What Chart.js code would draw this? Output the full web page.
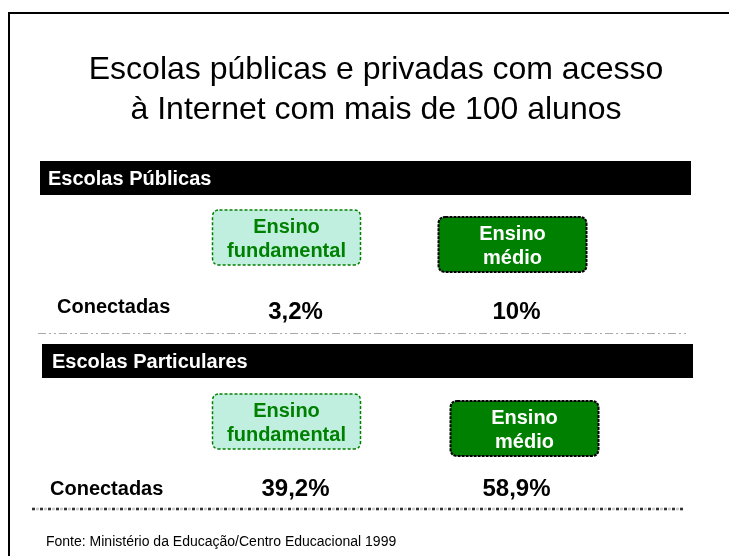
<!DOCTYPE html>
<html>
<head>
<meta charset="utf-8">
<script src="https://cdn.jsdelivr.net/npm/chart.js@4.4.1/dist/chart.umd.min.js"></script>
<style>
  html, body { margin: 0; padding: 0; background: #fff; }
  canvas { display: block; }
</style>
</head>
<body>
<canvas id="slide" width="729" height="556"></canvas>
<script>
// data
const levels = ["Ensino fundamental", "Ensino médio"];
const sections = ["Escolas Públicas", "Escolas Particulares"];
const rowLabel = "Conectadas";
const publicConnected = [3.2, 10];
const privateConnected = [39.2, 58.9];
const titleLines = ["Escolas públicas e privadas com acesso", "à Internet com mais de 100 alunos"];
const sourceNote = "Fonte: Ministério da Educação/Centro Educacional 1999";

const FONT = '"Liberation Sans", Arial, sans-serif';
const GREEN = "#008000";
const MINT = "#c0efe0";

// decoration placement per section (bars, header boxes)
const sectionLayout = [
    { barTop: 161, barLeft: 40, barRight: 691, labelX: 48, boxTop: [210, 217], boxShift: [-9, -4], rowLabelX: 57, rowLabelDy: 2 },
    { barTop: 344, barLeft: 42, barRight: 693, labelX: 52, boxTop: [394, 401], boxShift: [-9, 8], rowLabelX: 50, rowLabelDy: 7 }
];

function roundBox(ctx, x, y, w, h, r) {
    ctx.beginPath();
    ctx.moveTo(x + r, y);
    ctx.lineTo(x + w - r, y);
    ctx.quadraticCurveTo(x + w, y, x + w, y + r);
    ctx.lineTo(x + w, y + h - r);
    ctx.quadraticCurveTo(x + w, y + h, x + w - r, y + h);
    ctx.lineTo(x + r, y + h);
    ctx.quadraticCurveTo(x, y + h, x, y + h - r);
    ctx.lineTo(x, y + r);
    ctx.quadraticCurveTo(x, y, x + r, y);
    ctx.closePath();
}

const slidePlugin = {
    id: "slide",
    beforeDraw(chart) {
        const ctx = chart.ctx;
        const xs = chart.scales.x;
        const ys = chart.scales.y;
        ctx.save();
        ctx.fillStyle = "#fff";
        ctx.fillRect(0, 0, chart.width, chart.height);

        // outer frame, runs off the right and bottom edge
        ctx.strokeStyle = "#000";
        ctx.lineWidth = 2;
        ctx.strokeRect(9, 13, 760, 580);

        // title
        ctx.fillStyle = "#000";
        ctx.textAlign = "center";
        ctx.textBaseline = "alphabetic";
        ctx.font = "32px " + FONT;
        ctx.fillText(titleLines[0], 376, 79);
        ctx.fillText(titleLines[1], 376, 119);

        sections.forEach((name, s) => {
            const L = sectionLayout[s];
            ctx.fillStyle = "#000";
            ctx.fillRect(L.barLeft, L.barTop, L.barRight - L.barLeft, 34);
            ctx.fillStyle = "#fff";
            ctx.textAlign = "left";
            ctx.font = "bold 20px " + FONT;
            ctx.fillText(name, L.labelX, L.barTop + 24);

            // column header boxes
            levels.forEach((lvl, i) => {
                const cx = xs.getPixelForValue(i) + L.boxShift[i];
                const w = 148, h = 55;
                const top = L.boxTop[i];
                roundBox(ctx, cx - w / 2, top, w, h, 7);
                if (i === 0) {
                    ctx.fillStyle = MINT;
                    ctx.fill();
                    ctx.strokeStyle = GREEN;
                    ctx.setLineDash([3, 2]);
                    ctx.lineWidth = 1.5;
                } else {
                    ctx.fillStyle = GREEN;
                    ctx.fill();
                    ctx.strokeStyle = "#000";
                    ctx.setLineDash([3, 1]);
                    ctx.lineWidth = 2;
                }
                ctx.stroke();
                ctx.setLineDash([]);
                const words = lvl.split(" ");
                ctx.fillStyle = i === 0 ? GREEN : "#fff";
                ctx.textAlign = "center";
                ctx.font = "bold 20px " + FONT;
                ctx.fillText(words[0], cx, top + 23);
                ctx.fillText(words[1], cx, top + 47);
            });

            ctx.fillStyle = "#000";
            ctx.textAlign = "left";
            ctx.font = "bold 20px " + FONT;
            ctx.fillText(rowLabel, L.rowLabelX, ys.getPixelForValue(s) + L.rowLabelDy);
        });

        // separators
        ctx.strokeStyle = "#aaa";
        ctx.lineWidth = 1;
        ctx.setLineDash([8, 3, 2, 3, 2, 3]);
        ctx.beginPath();
        ctx.moveTo(38, 333.5);
        ctx.lineTo(688, 333.5);
        ctx.stroke();

        ctx.strokeStyle = "#c8c8c8";
        ctx.lineWidth = 2.5;
        ctx.setLineDash([3, 1]);
        ctx.beginPath();
        ctx.moveTo(32, 509);
        ctx.lineTo(684, 509);
        ctx.stroke();
        ctx.strokeStyle = "#333";
        ctx.setLineDash([3, 5]);
        ctx.stroke();
        ctx.setLineDash([]);

        ctx.fillStyle = "#000";
        ctx.textAlign = "left";
        ctx.font = "14px " + FONT;
        ctx.fillText(sourceNote, 46, 546);
        ctx.restore();
    },
    afterDatasetsDraw(chart) {
        const ctx = chart.ctx;
        ctx.save();
        ctx.fillStyle = "#000";
        ctx.textAlign = "center";
        ctx.textBaseline = "alphabetic";
        ctx.font = "bold 24px " + FONT;
        chart.data.datasets.forEach((ds, d) => {
            chart.getDatasetMeta(d).data.forEach((pt, i) => {
                const txt = ds.data[i].v.toLocaleString("pt-BR") + "%";
                ctx.fillText(txt, pt.x, pt.y + 8);
            });
        });
        ctx.restore();
    }
};

new Chart(document.getElementById("slide"), {
    type: "scatter",
    data: {
        datasets: [
            { label: sections[0], data: levels.map((l, i) => ({ x: l, y: sections[0], v: publicConnected[i] })) },
            { label: sections[1], data: levels.map((l, i) => ({ x: l, y: sections[1], v: privateConnected[i] })) }
        ]
    },
    options: {
        responsive: false,
        animation: false,
        devicePixelRatio: 1,
        layout: { padding: { left: 185, right: 102, top: 311, bottom: 68 } },
        elements: { point: { radius: 0, hoverRadius: 0 } },
        scales: {
            x: { type: "category", labels: levels, offset: true, display: false },
            y: { type: "category", labels: sections, offset: false, display: false }
        },
        plugins: { legend: { display: false }, tooltip: { enabled: false } }
    },
    plugins: [slidePlugin]
});
</script>
</body>
</html>
